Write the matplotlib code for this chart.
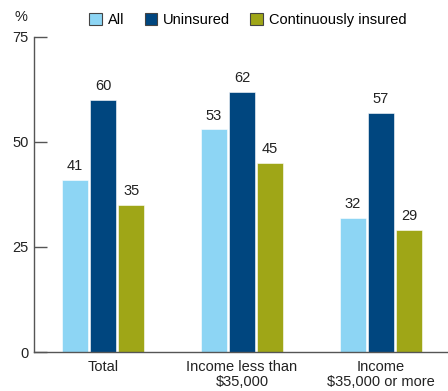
import numpy as np
import matplotlib.pyplot as plt
from matplotlib.patches import Patch

plt.rcParams['font.family'] = ['Liberation Sans', 'DejaVu Sans']

groups = ["Total", "Income less than\n$35,000", "Income\n$35,000 or more"]
series = ["All", "Uninsured", "Continuously insured"]
all_vals = [41, 53, 32]
uninsured_vals = [60, 62, 57]
insured_vals = [35, 45, 29]
colors = ["#8dd5f4", "#00467f", "#9fa617"]
yticks = [0, 25, 50, 75]

fig = plt.figure(figsize=(4.48, 3.91), dpi=100)
ax = fig.add_axes([34 / 448, 1 - 352 / 391, 414 / 448, 315 / 391])

x = np.arange(len(groups))
width = 0.19
step = 0.203
for i, (vals, c) in enumerate(zip([all_vals, uninsured_vals, insured_vals], colors)):
    bars = ax.bar(x + (i - 1) * step, vals, width, color=c, edgecolor="white", linewidth=0.4)
    for b, v in zip(bars, vals):
        ax.text(b.get_x() + b.get_width() / 2, v + 1.6, str(v), ha="center", va="bottom",
                fontsize=10.5, color="#222222")

ax.set_xlim(-0.496, 2.482)
ax.set_ylim(0, 75)
ax.set_yticks(yticks)
ax.set_xticks(x)
ax.set_xticklabels(groups, fontsize=10.5, color="#222222", linespacing=1.1)
ax.tick_params(axis="y", direction="in", length=9, width=1, color="#555555",
               labelsize=10.5, labelcolor="#222222", pad=4)
ax.tick_params(axis="x", length=0, pad=6)
for s in ["top", "right"]:
    ax.spines[s].set_visible(False)
for s in ["left", "bottom"]:
    ax.spines[s].set_color("#555555")
    ax.spines[s].set_linewidth(1)

fig.text(21 / 448, 1 - 17 / 391, "%", fontsize=10.5, color="#222222", ha="center", va="center")

handles = [Patch(facecolor=c, edgecolor="#444444", linewidth=0.8) for c in colors]
fig.legend(handles, series, loc="center", bbox_to_anchor=(0.553, 1 - 20 / 391), ncol=3,
           frameon=False, fontsize=10.5, handlelength=0.85, handleheight=0.85,
           handletextpad=0.4, columnspacing=1.4, borderpad=0)

fig.savefig("out.png", dpi=100)
